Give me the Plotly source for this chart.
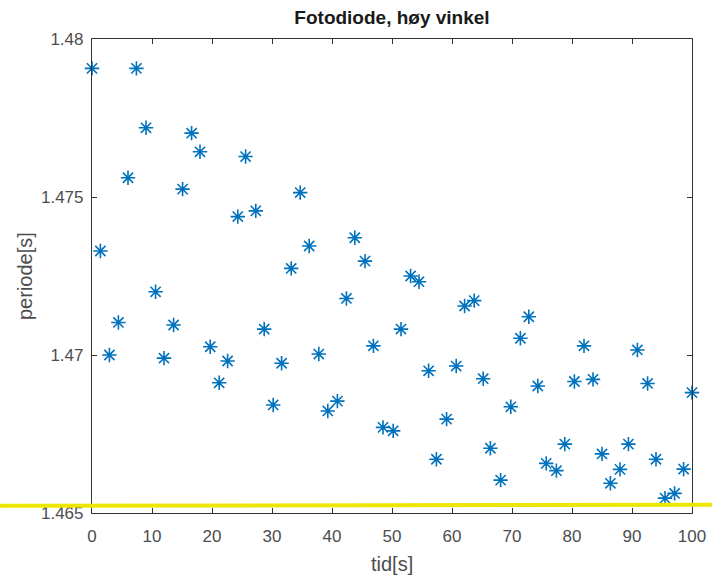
import plotly.graph_objects as go

# time [s]
tid = [0, 1.4, 2.9, 4.4, 6.0, 7.4, 9.0, 10.6, 12.0, 13.6,
       15.1, 16.6, 18.0, 19.7, 21.2, 22.6, 24.3, 25.6, 27.3, 28.7,
       30.2, 31.6, 33.2, 34.7, 36.2, 37.8, 39.3, 40.9, 42.4, 43.8,
       45.5, 46.9, 48.5, 50.2, 51.5, 53.1, 54.5, 56.1, 57.4, 59.1,
       60.7, 62.1, 63.7, 65.2, 66.4, 68.1, 69.8, 71.4, 72.8, 74.3,
       75.7, 77.4, 78.8, 80.4, 82.0, 83.5, 85.0, 86.4, 88.0, 89.4,
       90.9, 92.6, 94.0, 95.5, 97.1, 98.6, 100.0]

# period [s]
periode = [1.47907, 1.47329, 1.47000, 1.47103, 1.47561, 1.47907, 1.47719, 1.47200, 1.46990, 1.47095,
           1.47525, 1.47702, 1.47643, 1.47026, 1.46912, 1.46981, 1.47438, 1.47628, 1.47456, 1.47082,
           1.46842, 1.46974, 1.47274, 1.47514, 1.47345, 1.47003, 1.46823, 1.46854, 1.47179, 1.47371,
           1.47297, 1.47029, 1.46771, 1.46760, 1.47082, 1.47250, 1.47232, 1.46950, 1.46670, 1.46797,
           1.46965, 1.47155, 1.47172, 1.46925, 1.46705, 1.46604, 1.46836, 1.47053, 1.47121, 1.46902,
           1.46657, 1.46634, 1.46718, 1.46916, 1.47029, 1.46923, 1.46687, 1.46594, 1.46638, 1.46718,
           1.47016, 1.46910, 1.46670, 1.46547, 1.46562, 1.46639, 1.46881]

x_ticks = [0, 10, 20, 30, 40, 50, 60, 70, 80, 90, 100]
y_ticks = [1.465, 1.47, 1.475, 1.48]
y_ticklabels = ["1.465", "1.47", "1.475", "1.48"]

marker_line_level = 1.46525  # yellow highlight line

FONT = "Liberation Sans, Arial, sans-serif"
AXC = "#333333"
TXT = "#4d4d4d"
BLUE = "#0072BD"

fig = go.Figure()
fig.add_trace(go.Scatter(
    x=tid, y=periode, mode="markers", cliponaxis=False,
    marker=dict(symbol="asterisk-open", size=12, color=BLUE,
                line=dict(color=BLUE, width=1.6)),
    showlegend=False,
))

axis_common = dict(
    showgrid=False, zeroline=False, showline=True, mirror="ticks",
    linecolor=AXC, linewidth=1.2, ticks="inside", ticklen=5,
    tickcolor=AXC, tickwidth=1.2, automargin=False,
    tickfont=dict(family=FONT, size=17, color=TXT),
)

fig.update_xaxes(range=[0, 100], tickvals=x_ticks, ticklabelstandoff=7, **axis_common)
fig.update_yaxes(range=[1.465, 1.48], tickvals=y_ticks, ticktext=y_ticklabels,
                 ticklabelstandoff=4, **axis_common)

fig.add_annotation(text="tid[s]", xref="paper", yref="paper", x=0.5, y=-(564 - 513) / 474,
                   xanchor="center", yanchor="middle", showarrow=False,
                   font=dict(family=FONT, size=20, color=TXT))
fig.add_annotation(text="periode[s]", xref="paper", yref="paper", x=-(92 - 25) / 600, y=0.5,
                   xanchor="center", yanchor="middle", textangle=-90, showarrow=False,
                   font=dict(family=FONT, size=20, color=TXT))

fig.add_shape(type="line", xref="paper", yref="y",
              x0=-92/600, x1=620/600, y0=marker_line_level - 0.00002, y1=marker_line_level + 0.00001,
              line=dict(color="#ECE600", width=4), layer="above")

fig.update_layout(
    width=712, height=576,
    margin=dict(l=92, r=20, t=39, b=63),
    paper_bgcolor="white", plot_bgcolor="white",
    title=dict(text="<b>Fotodiode, høy vinkel</b>", x=392/712, xanchor="center",
               y=1 - 17/576, yanchor="middle",
               font=dict(family=FONT, size=19, color="#1a1a1a")),
    font=dict(family=FONT),
)

fig.write_html("out.html")
